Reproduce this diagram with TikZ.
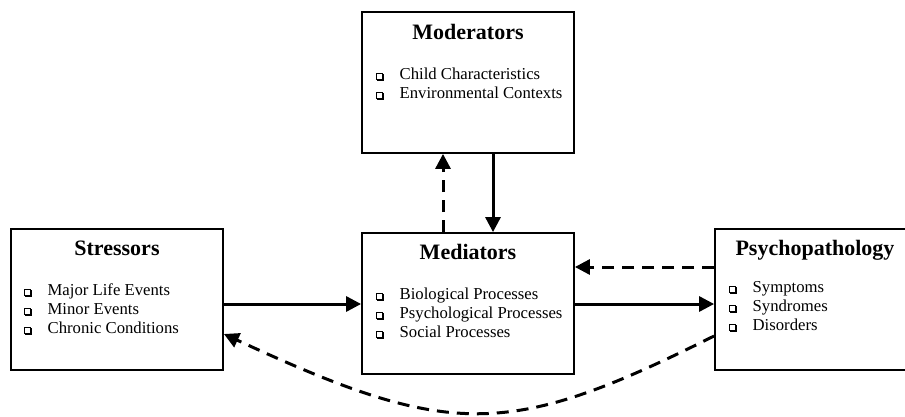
\documentclass[tikz,border=0pt]{standalone}
\usepackage{fontspec}
\setmainfont{Liberation Serif}
\usetikzlibrary{arrows.meta}

% shadowed square bullet
\newcommand{\sqb}{\tikz[baseline=0pt]{\draw[line width=0.5pt] (0pt,0pt) rectangle (6pt,6pt); \draw[line width=1.1pt] (0.6pt,-0.55pt) -- (6.55pt,-0.55pt) -- (6.55pt,5.4pt);}}

\begin{document}
\begin{tikzpicture}[x=1pt, y=-1pt,
    box/.style={draw, line width=1.8pt, minimum width=212pt, minimum height=141pt, inner sep=0pt},
    boxtitle/.style={anchor=base, inner sep=0pt, font=\fontsize{22}{26}\selectfont\bfseries},
    boxitems/.style={anchor=base west, inner sep=0pt, font=\fontsize{16.7}{19}\selectfont},
    solidarrow/.style={line width=3pt, -{Triangle[length=15pt, width=15pt]}},
    dasharrow/.style={solidarrow, dash pattern=on 12pt off 8pt}]
        \path[use as bounding box, clip] (0,0) rectangle (905,417);
        % boxes
        \node[box] (mod) at (468, 82.5) {};
        \node[box] (str) at (117, 299.5) {};
        \node[box] (med) at (468, 303.5) {};
        \node[box, minimum width=200pt] (psy) at (815, 299.5) {};
        % titles
        \node[boxtitle] (modt) at ([yshift=-28pt]mod.north) {Moderators};
        \node[boxtitle] (strt) at ([yshift=-27pt]str.north) {Stressors};
        \node[boxtitle] (medt) at ([yshift=-27pt]med.north) {Mediators};
        \node[boxtitle] (psyt) at ([yshift=-27pt]psy.north) {Psychopathology};
        % item lists
        \node[boxitems] (modl) at ([xshift=15pt, yshift=-68.5pt]mod.north west) {\begin{tabular}[t]{@{}l@{\hspace{16pt}}l@{}}
            \sqb & Child Characteristics\\
            \sqb & Environmental Contexts
        \end{tabular}};
        \node[boxitems] (strl) at ([xshift=14pt, yshift=-67.5pt]str.north west) {\begin{tabular}[t]{@{}l@{\hspace{16pt}}l@{}}
            \sqb & Major Life Events\\
            \sqb & Minor Events\\
            \sqb & Chronic Conditions
        \end{tabular}};
        \node[boxitems] (medl) at ([xshift=15pt, yshift=-67.5pt]med.north west) {\begin{tabular}[t]{@{}l@{\hspace{16pt}}l@{}}
            \sqb & Biological Processes\\
            \sqb & Psychological Processes\\
            \sqb & Social Processes
        \end{tabular}};
        \node[boxitems] (psyl) at ([xshift=15pt, yshift=-64.5pt]psy.north west) {\begin{tabular}[t]{@{}l@{\hspace{16pt}}l@{}}
            \sqb & Symptoms\\
            \sqb & Syndromes\\
            \sqb & Disorders
        \end{tabular}};
        % connectors
        \draw[dasharrow] ([xshift=-25pt]med.north) -- ([xshift=-25pt]mod.south);
        \draw[solidarrow] ([xshift=25pt]mod.south) -- ([xshift=25pt]med.north);
        \draw[solidarrow] ([yshift=-4.5pt]str.east) -- ([yshift=-0.5pt]med.west);
        \draw[solidarrow] ([yshift=-0.5pt]med.east) -- ([yshift=-4.5pt]psy.west);
        \draw[dasharrow] ([yshift=32.5pt]psy.west) -- ([yshift=36.5pt]med.east);
        \draw[dasharrow] ([yshift=-36.5pt]psy.west) .. controls (508, 439) and (451, 439) .. ([yshift=-34.5pt]str.east);
\end{tikzpicture}
\end{document}
